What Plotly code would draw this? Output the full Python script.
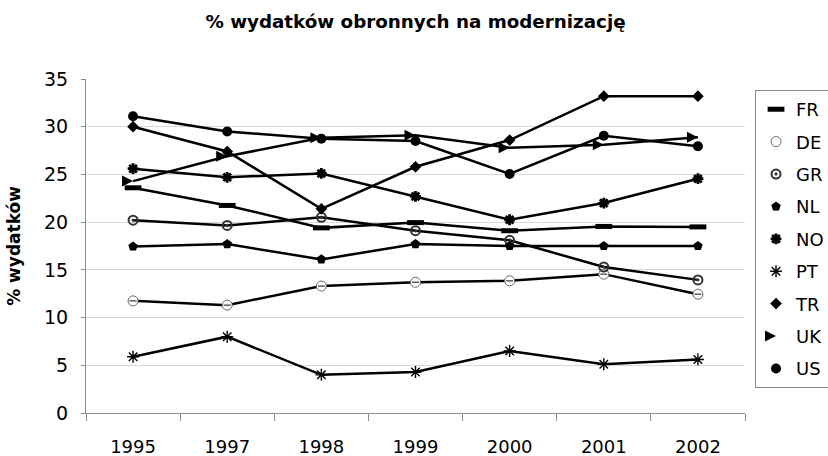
import plotly.graph_objects as go

years = ["1995", "1997", "1998", "1999", "2000", "2001", "2002"]
countries = ["FR", "DE", "GR", "NL", "NO", "PT", "TR", "UK", "US"]
FR = [23.6, 21.75, 19.4, 19.95, 19.1, 19.55, 19.5]
DE = [11.75, 11.3, 13.3, 13.7, 13.85, 14.55, 12.45]
GR = [20.2, 19.65, 20.5, 19.1, 18.1, 15.3, 13.95]
NL = [17.45, 17.7, 16.1, 17.7, 17.5, 17.5, 17.5]
NO = [25.6, 24.7, 25.1, 22.7, 20.25, 22.0, 24.55]
PT = [5.9, 8.0, 4.0, 4.3, 6.5, 5.1, 5.6]
TR = [30.0, 27.4, 21.4, 25.8, 28.6, 33.2, 33.2]
UK = [24.3, 26.9, 28.85, 29.1, 27.8, 28.1, 28.9]
US = [31.1, 29.5, 28.75, 28.5, 25.05, 29.05, 27.95]
values = {"FR": FR, "DE": DE, "GR": GR, "NL": NL, "NO": NO,
          "PT": PT, "TR": TR, "UK": UK, "US": US}

markers = {
    "FR": dict(symbol="line-ew", size=12, color="black", line=dict(color="black", width=5)),
    "DE": dict(symbol="circle", size=10, color="white", line=dict(color="#666666", width=1)),
    "GR": dict(symbol="circle-open-dot", size=9, color="#333333", line=dict(color="#333333", width=2)),
    "NL": dict(symbol="pentagon", size=10, color="black", line=dict(width=0)),
    "NO": dict(symbol="asterisk-open", size=9, color="black", line=dict(color="black", width=2.8)),
    "PT": dict(symbol="asterisk-open", size=10, color="black", line=dict(color="black", width=1.4)),
    "TR": dict(symbol="diamond", size=9, color="black", line=dict(width=0)),
    "UK": dict(symbol="arrow-right", size=11, color="black", line=dict(width=0)),
    "US": dict(symbol="circle", size=10, color="black", line=dict(width=0)),
}

fig = go.Figure()
for c in countries:
    fig.add_trace(go.Scatter(
        x=years, y=values[c], mode="lines+markers", name=c,
        line=dict(color="black", width=2.5), marker=markers[c],
        showlegend=False, cliponaxis=False))
    if c == "DE":
        fig.add_trace(go.Scatter(
            x=years, y=values[c], mode="markers", showlegend=False,
            marker=dict(symbol="line-ew", size=5, color="#444444",
                        line=dict(color="#444444", width=1.3)),
            cliponaxis=False))

for c in countries:
    fig.add_trace(go.Scatter(
        x=[None], y=[None], mode="markers", name=c, marker=markers[c],
        showlegend=True, legendgroup=c))

font = "DejaVu Sans"
fig.update_layout(
    width=842, height=456,
    margin=dict(l=86, r=97, t=79, b=43),
    paper_bgcolor="white", plot_bgcolor="white",
    font=dict(family=font, size=18, color="black"),
    title=dict(text="<b>% wydatków obronnych na modernizację</b>",
               x=0.5, xanchor="center", xref="paper",
               y=0.9518, yanchor="middle", yref="container",
               font=dict(family=font, size=18.3, color="black")),
    showlegend=True,
    legend=dict(x=1.0152, xanchor="left", y=0.967, yanchor="top",
                bgcolor="white", bordercolor="#8c8c8c", borderwidth=1,
                font=dict(family=font, size=18), tracegroupgap=6,
                itemsizing="trace"),
    xaxis=dict(type="category", tickson="boundaries", ticks="outside",
               ticklen=7, tickcolor="#8c8c8c", showline=True,
               linecolor="#8c8c8c", linewidth=1, showgrid=False,
               ticklabelstandoff=17, range=[-0.5, 6.5], automargin=False),
    yaxis=dict(range=[0, 35], dtick=5, ticks="outside", ticklen=4,
               tickcolor="#8c8c8c", showline=True, linecolor="#8c8c8c",
               linewidth=1, showgrid=True, gridcolor="#d9d9d9",
               zeroline=False, ticklabelstandoff=9, automargin=False,
               tickfont=dict(size=19),
               title=dict(text="<b>% wydatków</b>", standoff=19,
                          font=dict(family=font, size=17))),
)

fig.write_html(
    "out.html",
    config={"displayModeBar": False},
    post_script="document.body.style.margin='0';document.body.style.overflow='hidden';",
)
